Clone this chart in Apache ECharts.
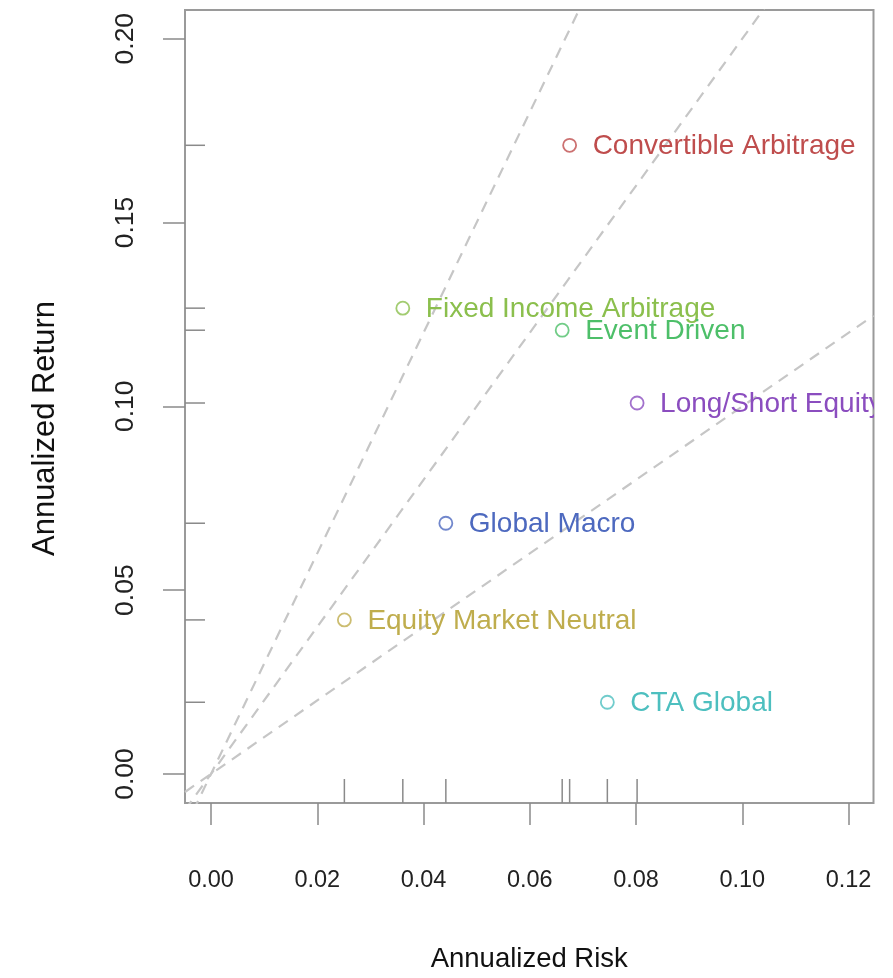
<!DOCTYPE html>
<html>
<head>
<meta charset="utf-8">
<script src="https://cdn.jsdelivr.net/npm/echarts@6/dist/echarts.min.js"></script>
<style>
  html, body { margin: 0; padding: 0; background: #ffffff; }
  #chart { width: 893px; height: 978px; }
</style>
</head>
<body>
<div id="chart"></div>
<script>
// Hedge fund strategies: annualized risk vs. annualized return
const strategies = [
  'Convertible Arbitrage',
  'Fixed Income Arbitrage',
  'Event Driven',
  'Long/Short Equity',
  'Global Macro',
  'Equity Market Neutral',
  'CTA Global'
];
const annRisk   = [0.0675, 0.0361, 0.0661, 0.0802, 0.0442, 0.0251, 0.0746];
const annReturn = [0.1710, 0.1267, 0.1207, 0.1009, 0.0682, 0.0419, 0.0195];
const colors    = ['#BF4D4D', '#8BBF4D', '#4DBF69', '#8B4DBF', '#4D69BF', '#BFAD4D', '#4DBFBF'];

// axis ticks and reference Sharpe-ratio lines
const xTicks = [0.00, 0.02, 0.04, 0.06, 0.08, 0.10, 0.12];
const yTicks = [0.00, 0.05, 0.10, 0.15, 0.20];
const sharpeSlopes = [1, 2, 3];

const X_MIN = -0.0049, X_MAX = 0.1247;
const Y_MIN = -0.0079, Y_MAX = 0.2078;
const FONT = '"Liberation Sans", Arial, Helvetica, sans-serif';

const chart = echarts.init(document.getElementById('chart'), null, { renderer: 'canvas' });

const points = strategies.map((n, i) => [annRisk[i], annReturn[i], i]);

const sharpeSeries = sharpeSlopes.map(k => ({
  type: 'line',
  data: [[X_MIN, k * X_MIN], [X_MAX, k * X_MAX]],
  showSymbol: false,
  clip: true,
  silent: true,
  z: 1,
  lineStyle: { color: '#c6c6c6', width: 2.2, type: [11, 8] }
}));

chart.setOption({
  animation: false,
  grid: {
    left: 185, top: 10, width: 688.5, height: 797,
    show: true, borderColor: '#9a9a9a', borderWidth: 2,
    backgroundColor: 'transparent', containLabel: false
  },
  xAxis: {
    type: 'value', min: X_MIN, max: X_MAX,
    splitLine: { show: false },
    axisLine: { show: false, onZero: false },
    axisTick: { show: true, length: 22, customValues: xTicks,
                lineStyle: { color: '#8a8a8a', width: 1.5 } },
    axisLabel: { customValues: xTicks, formatter: v => v.toFixed(2),
                 fontSize: 23.5, color: '#222', fontFamily: FONT, margin: 66 },
    name: 'Annualized Risk', nameLocation: 'middle', nameGap: 142,
    nameTextStyle: { fontSize: 27.5, color: '#111', fontFamily: FONT }
  },
  yAxis: {
    type: 'value', min: Y_MIN, max: Y_MAX,
    splitLine: { show: false },
    axisLine: { show: false, onZero: false },
    axisTick: { show: true, length: 22, customValues: yTicks,
                lineStyle: { color: '#8a8a8a', width: 1.5 } },
    axisLabel: { customValues: yTicks, formatter: v => v.toFixed(2), rotate: 90,
                 fontSize: 26.5, color: '#222', fontFamily: FONT, margin: 46 },
    name: 'Annualized Return', nameLocation: 'middle', nameGap: 124, nameRotate: 90,
    nameTextStyle: { fontSize: 31, color: '#111', fontFamily: FONT, padding: [0, 44, 0, 0] }
  },
  series: [
    ...sharpeSeries,
    {
      // rug marks along both axes
      type: 'custom',
      data: points,
      silent: true,
      z: 2,
      renderItem(params, api) {
        const x = api.value(0), y = api.value(1);
        const bottom = api.coord([x, Y_MIN]);
        const left = api.coord([X_MIN, y]);
        const st = { stroke: '#8a8a8a', lineWidth: 1.5 };
        return {
          type: 'group',
          children: [
            { type: 'line', shape: { x1: bottom[0], y1: bottom[1], x2: bottom[0], y2: bottom[1] - 24 }, style: st },
            { type: 'line', shape: { x1: left[0], y1: left[1], x2: left[0] + 20, y2: left[1] }, style: st }
          ]
        };
      }
    },
    {
      type: 'scatter',
      data: points.map(p => ({
        value: p,
        itemStyle: { color: 'transparent', borderColor: colors[p[2]], borderWidth: 1.8 }
      })),
      symbol: 'circle',
      symbolSize: 13,
      z: 3
    },
    {
      // strategy names, clipped to the plotting area
      type: 'custom',
      data: points,
      clip: true,
      silent: true,
      z: 4,
      renderItem(params, api) {
        const p = api.coord([api.value(0), api.value(1)]);
        const i = api.value(2);
        return {
          type: 'text',
          x: p[0] + 23, y: p[1] + 1,
          style: {
            text: strategies[i], fill: colors[i],
            font: '28px ' + FONT, align: 'left', verticalAlign: 'middle'
          }
        };
      }
    }
  ]
});
</script>
</body>
</html>
